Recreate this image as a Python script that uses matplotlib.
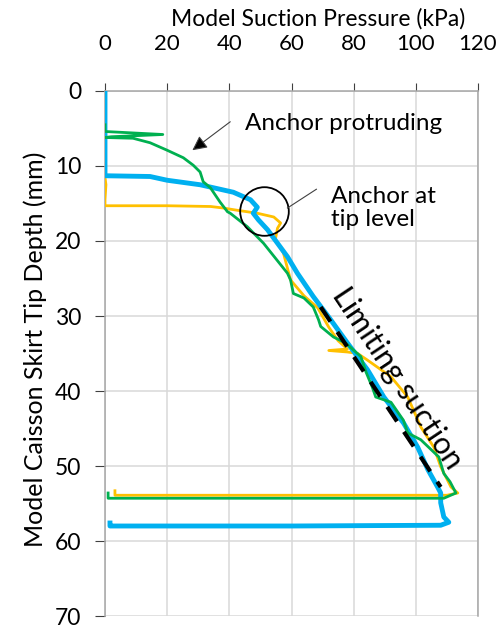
import matplotlib.pyplot as plt

plt.rcParams['font.family'] = ['Lato', 'DejaVu Sans']

# traced series: suction pressure (kPa) vs skirt tip depth (mm)
green_x = [0, 0, 18.6, 2, 0, 9, 14.5, 20, 25.2, 28.4, 30.6, 31.6, 33.9, 37, 39.4,
           40.3, 45.8, 51, 58.7, 59.7, 60.6, 64, 67, 68.7, 69.4, 73.5, 77.4, 82.3,
           84, 86, 87.1, 92, 96, 97.4, 101.6, 107.4, 109, 111, 112.9, 109, 60, 1, 1]
green_y = [4.5, 5.4, 5.8, 6.1, 6.2, 6.3, 6.9, 7.9, 8.9, 9.9, 10.8, 12.1, 12.9, 14.8, 16.1,
           16.3, 18.1, 20.3, 24.3, 25.2, 27.0, 27.6, 28.8, 30.5, 31.4, 32.8, 33.6, 35.4,
           37.5, 39.5, 40.8, 41.5, 43.9, 45.6, 46.5, 48.8, 51.0, 52.1, 53.6, 54.3, 54.3, 54.3, 53.6]

orange_x = [0, 0, 0.3, 0, 0, 20, 34, 38, 42.5, 49, 54.3, 56.5, 55.5, 54.8, 57.4,
            59.7, 64, 68.4, 72, 75, 78, 72, 78, 81.3, 84.5, 92, 97.4, 101.6, 105.8,
            108, 111.3, 113.5, 110, 60, 3.2, 3.2]
orange_y = [0.5, 11.5, 12.5, 14.5, 15.3, 15.3, 15.4, 15.6, 15.9, 16.3, 16.8, 17.6, 18.3, 19.8, 21.6,
            25.2, 27.3, 28.9, 31.5, 33.3, 34.4, 34.6, 34.8, 35.0, 35.9, 38.1, 40.8, 44.8, 47.5,
            50.1, 52.8, 53.6, 53.9, 53.9, 53.9, 53.3]

blue_x = [0, 0, 14.5, 20, 30.6, 41.3, 46.8, 49, 47.7, 49.4, 52.3, 55.5, 58.7, 61.9,
          67, 72.6, 78, 84.5, 89.7, 96.1, 100.6, 103.9, 107, 108, 108, 109, 110.6,
          108, 60, 1.6, 1.6]
blue_y = [0, 11.3, 11.4, 11.9, 12.5, 13.5, 14.5, 15.5, 16.3, 17.2, 18.5, 20.3, 22.1, 24.3,
          27.4, 30.5, 33.6, 37.2, 40.8, 44.3, 47.5, 50.5, 52.8, 53.6, 54.9, 56.8, 57.5,
          57.9, 58.0, 58.0, 57.6]

limit_x = [69.4, 108]
limit_y = [28.8, 52.8]

x_ticks = [0, 20, 40, 60, 80, 100, 120]
y_ticks = [0, 10, 20, 30, 40, 50, 60, 70]

fig = plt.figure(figsize=(5, 6.28), dpi=100)
ax = fig.add_axes([0.21, 0.0191, 0.746, 0.836])

ax.plot(orange_x, orange_y, color='#FFC000', lw=2.0, zorder=3)
ax.plot(blue_x, blue_y, color='#00B0F0', lw=3.5, zorder=4)
ax.plot(green_x, green_y, color='#00B050', lw=2.0, zorder=5)
ax.plot(limit_x, limit_y, color='black', lw=3, dashes=(4.2, 3.0), zorder=6)

ax.set_xlim(0, 120)
ax.set_ylim(70, 0)
ax.set_xticks(x_ticks)
ax.set_yticks(y_ticks)
ax.xaxis.tick_top()
ax.grid(True, color='#d9d9d9', lw=1.1)
ax.set_axisbelow(True)
for side in ['top', 'left', 'right']:
    ax.spines[side].set_color('#a6a6a6')
    ax.spines[side].set_linewidth(1.1)
ax.spines['bottom'].set_visible(False)
ax.tick_params(axis='x', length=6, pad=20.5, labelsize=16, color='#404040')
ax.tick_params(axis='y', length=7, pad=10, labelsize=16.5, color='#404040')

fig.text(0.636, 0.970, 'Model Suction Pressure (kPa)', ha='center', va='center', fontsize=16.5)
fig.text(0.07, 0.443, 'Model Caisson Skirt Tip Depth (mm)', ha='center', va='center',
         rotation=90, fontsize=18)

# annotations
ax.annotate('', xy=(28.1, 7.9), xytext=(40.3, 4.1),
            arrowprops=dict(arrowstyle='-|>', color='#404040', fc='black', lw=0.8,
                            mutation_scale=22, shrinkA=0, shrinkB=0))
ax.text(45.2, 4.3, 'Anchor protruding', fontsize=17.5, va='center', ha='left')
ax.plot([51], [16], marker='o', markersize=35, mfc='none', mec='black', mew=1.3, zorder=7)
ax.plot([58.7, 68], [15.6, 13.1], color='#404040', lw=0.8, zorder=7)
ax.text(72.6, 15.6, 'Anchor at\ntip level', fontsize=17.5, va='center', ha='left',
        linespacing=1.1)
ax.text(94, 38.3, 'Limiting suction', fontsize=22, rotation=-56.3,
        rotation_mode='anchor', ha='center', va='center', zorder=8)

fig.savefig('out.png', dpi=100)
